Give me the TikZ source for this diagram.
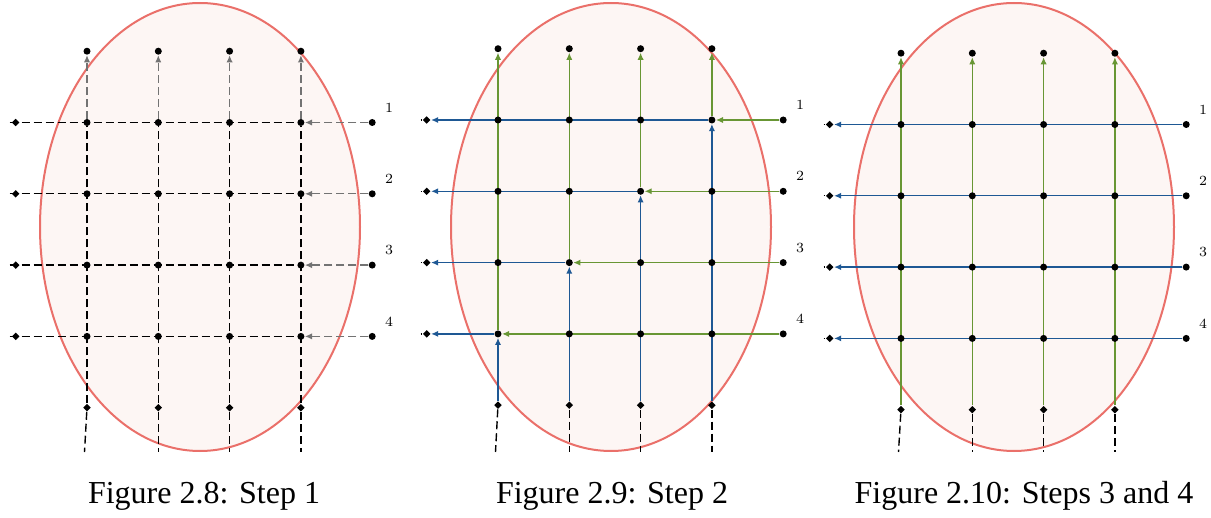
\documentclass[tikz,border=0pt]{standalone}
\usepackage{fontspec}
\newfontfamily\capfont{Liberation Serif}
\usepackage{tikz}
\usetikzlibrary{arrows.meta,shapes.geometric,backgrounds}

\definecolor{flowblue}{RGB}{30,88,148}
\definecolor{flowgreen}{RGB}{104,150,52}
\definecolor{regionline}{RGB}{234,112,106}
\definecolor{regionfill}{RGB}{253,246,244}

\begin{document}
\begin{tikzpicture}[
    x=0.5pt, y=-0.5pt,
    dot/.style={circle,fill,inner sep=0pt,minimum size=3.5pt},
    dia/.style={diamond,fill,inner sep=0pt,minimum size=3.9pt},
    lbl/.style={font=\fontsize{7}{8}\selectfont,inner sep=0pt},
    figcap/.style={font=\capfont\fontsize{16}{19}\selectfont,anchor=base,inner sep=0pt},
    region/.style={draw=regionline,fill=regionfill,line width=1pt},
    wire/.style={line width=0.7pt},
    dline/.style={wire,dash pattern=on 4pt off 2pt},
    flow/.style={-{Latex[length=3.6pt,width=3.1pt]}}
]
\useasboundingbox (0,0) rectangle (1211,518);

% the three panels: grid nodes, border nodes and the region
\foreach \p/\ox/\oy in {a/87/122.5,b/498/120,c/901/124.5}{
  \begin{scope}[shift={(\ox,\oy)}]
    \begin{scope}[on background layer]
      \draw[region] (113,{227-\oy}) ellipse [x radius=80pt,y radius=112pt];
    \end{scope}
    \foreach \i in {1,...,4}{
      \foreach \j in {1,...,4}
        \node[dot] (\p-\i-\j) at ({(\j-1)*71.3},{(\i-1)*71.3}) {};
      \node[dia] (\p-l-\i) at (-71.3,{(\i-1)*71.3}) {};
      \coordinate (\p-s-\i) at (-77.5,{(\i-1)*71.3});
      \node[dot] (\p-r-\i) at (285.2,{(\i-1)*71.3}) {};
      \node[lbl] (\p-n-\i) at (302,{(\i-1)*71.3-15}) {\i};
      \node[dot] (\p-t-\i) at ({(\i-1)*71.3},-71.3) {};
      \node[dia] (\p-b-\i) at ({(\i-1)*71.3},285.2) {};
    }
    \coordinate (\p-e-1) at (-2.5,{452-\oy});
    \foreach \j in {2,3,4}
      \coordinate (\p-e-\j) at ({(\j-1)*71.3},{452-\oy});
  \end{scope}
}

\begin{scope}[on background layer]
  % step 1
  \foreach \i in {1,...,4}{
    \draw[dline] (a-s-\i) -- (a-\i-4);
    \draw[dline,black!55,flow] (a-r-\i) -- (a-\i-4);
    \draw[dline] (a-b-\i) -- (a-1-\i);
    \draw[dline,black!55,flow] (a-1-\i) -- (a-t-\i);
  }
  % loose ends below and left
  \foreach \p in {a,b,c}
    \foreach \j in {1,...,4}
      \draw[dline] (\p-b-\j) -- (\p-e-\j);
  \foreach \p in {b,c}
    \foreach \i in {1,...,4}
      \draw[wire] (\p-s-\i) -- (\p-l-\i);
  % step 2
  \foreach \k in {1,...,4}{
    \pgfmathtruncatemacro\col{5-\k}
    \draw[wire,flowgreen,flow] (b-r-\k) -- (b-\k-\col);
    \draw[wire,flowgreen,flow] (b-\k-\col) -- (b-t-\col);
    \draw[wire,flowblue,flow] (b-b-\col) -- (b-\k-\col);
    \draw[wire,flowblue,flow] (b-\k-\col) -- (b-l-\k);
  }
  % steps 3 and 4
  \foreach \i in {1,...,4}{
    \draw[wire,flowblue,flow] (c-r-\i) -- (c-l-\i);
    \draw[wire,flowgreen,flow] (c-b-\i) -- (c-t-\i);
  }
\end{scope}

\node[figcap] (cap-a) at (204,503) {Figure 2.8: Step 1};
\node[figcap] (cap-b) at (612,503) {Figure 2.9: Step 2};
\node[figcap] (cap-c) at (1024,503) {Figure 2.10: Steps 3 and 4};
\end{tikzpicture}
\end{document}
